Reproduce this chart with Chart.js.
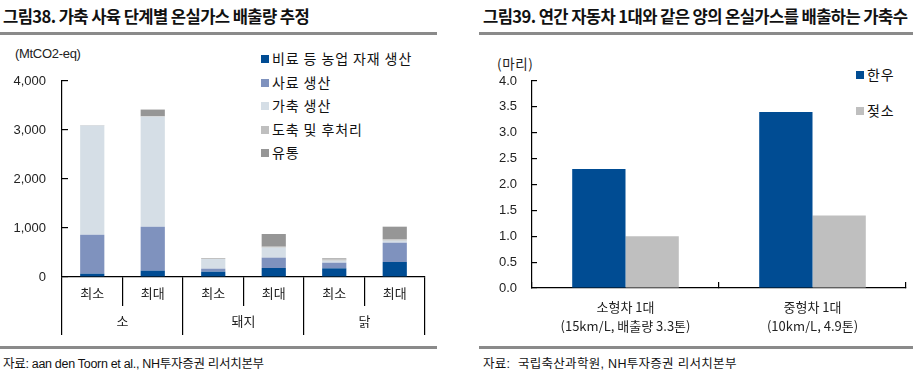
<!DOCTYPE html>
<html>
<head>
<meta charset="utf-8">
<script src="https://cdn.jsdelivr.net/npm/chart.js@4.4.1/dist/chart.umd.min.js"></script>
<style>
  html, body { margin:0; padding:0; background:#fff; }
  body { width:913px; height:375px; position:relative; overflow:hidden;
         font-family:"Liberation Sans","Noto Sans CJK KR",sans-serif; color:#111; }
  .abs { position:absolute; white-space:nowrap; }
  .title { font-family:"Noto Sans CJK KR",sans-serif; font-weight:bold; font-size:16.6px; top:4px; letter-spacing:-0.6px; color:#111; }
  .rule { position:absolute; height:3px; background:#8a8a8a; }
  .src { font-size:12.5px; top:353px; letter-spacing:-0.3px; color:#111; }
  .unit { font-size:13px; color:#222; letter-spacing:-0.3px; }
  .leg { font-family:"Noto Sans CJK KR",sans-serif; font-size:14px; line-height:16px; color:#111; letter-spacing:0.9px; }
  .leg span.sw { display:inline-block; width:8px; height:8px; margin-right:3px; vertical-align:1px; }
  canvas { position:absolute; }
</style>
</head>
<body>
<div class="abs title" style="left:3px;">그림38. 가축 사육 단계별 온실가스 배출량 추정</div>
<div class="rule" style="left:0; width:437px; top:32px;"></div>
<div class="abs unit" style="left:15px; top:46px;">(MtCO2-eq)</div>
<div id="legL"></div>
<div class="rule" style="left:0; width:437px; top:346px;"></div>
<div class="abs src" style="left:3px;">자료: aan den Toorn et al., NH투자증권 리서치본부</div>

<div class="abs title" style="left:483px;">그림39. 연간 자동차 1대와 같은 양의 온실가스를 배출하는 가축수</div>
<div class="rule" style="left:479px; width:434px; top:32px;"></div>
<div class="abs unit" style="left:497px; top:53px; font-family:'Noto Sans CJK KR',sans-serif; font-size:13.5px; letter-spacing:0.6px;">(마리)</div>
<div id="legR"></div>
<div class="rule" style="left:479px; width:434px; top:346px;"></div>
<div class="abs src" style="left:483px; letter-spacing:0.3px;">자료:&nbsp; 국립축산과학원, NH투자증권 리서치본부</div>

<canvas id="c1" width="440" height="345" style="left:0; top:0;"></canvas>
<canvas id="c2" width="453" height="345" style="left:460px; top:0;"></canvas>

<script>
// ---------- Chart 38 data ----------
const stageCats = ['최소','최대','최소','최대','최소','최대'];
const animalGroups = ['소','돼지','닭'];
const stageNames = ['비료 등 농업 자재 생산','사료 생산','가축 생산','도축 및 후처리','유통'];
const fertilizer = [67, 129, 108, 184, 177, 306];
const feed       = [796, 898, 62, 211, 115, 394];
const livestock  = [2229, 2245, 197, 204, 41, 41];
const slaughter  = [10, 10, 20, 20, 25, 28];
const distribution = [0, 135, 0, 258, 23, 258];
const leftTicks = [0, 1000, 2000, 3000, 4000];
const stageColors = ['#004C93','#7F92BE','#D5DEE6','#BFBFBF','#969696'];

// ---------- Chart 39 data ----------
const carCats = [['소형차 1대','(15km/L, 배출량 3.3톤)'], ['중형차 1대','(10km/L, 4.9톤)']];
const cattleNames = ['한우','젖소'];
const hanwoo = [2.3, 3.4];
const dairy  = [1.0, 1.4];
const rightTicks = [0, 0.5, 1, 1.5, 2, 2.5, 3, 3.5, 4];
const cattleColors = ['#004C93','#BFBFBF'];

const NUMFONT = "'Liberation Sans','Noto Sans CJK KR',sans-serif";
const KRFONT = "'Noto Sans CJK KR',sans-serif";

// HTML legends
function buildLegend(id, names, colors, left, tops) {
  const box = document.getElementById(id);
  names.forEach((n, i) => {
    const d = document.createElement('div');
    d.className = 'abs leg';
    d.style.left = left + 'px';
    d.style.top = (tops[i] - 8) + 'px';
    d.innerHTML = '<span class="sw" style="background:' + colors[i] + '"></span>' + n;
    box.appendChild(d);
  });
}
buildLegend('legL', stageNames, stageColors, 261, [58, 82, 105, 129, 152]);
buildLegend('legR', cattleNames, cattleColors, 856, [74, 110]);

const seriesL = [fertilizer, feed, livestock, slaughter, distribution];

new Chart(document.getElementById('c1'), {
  type: 'bar',
  data: {
    labels: stageCats,
    datasets: seriesL.map((d, i) => ({
      label: stageNames[i], data: d, backgroundColor: stageColors[i],
      borderWidth: 0, barPercentage: 0.4, categoryPercentage: 1.0, xAxisID: 'x', yAxisID: 'y'
    }))
  },
  options: {
    responsive: false, animation: false,
    layout: { padding: { left: 0, top: 81, right: 15, bottom: 10 } },
    plugins: { legend: { display: false }, tooltip: { enabled: false } },
    scales: {
      x: {
        type: 'category', position: 'bottom', stacked: true,
        grid: { display: true, offset: true, drawOnChartArea: false, tickLength: 29, color: '#000', lineWidth: 1.2 },
        border: { display: true, color: '#000', width: 1.2 },
        ticks: { padding: -21, color: '#222', font: { family: KRFONT, size: 13 } },
        afterFit: s => { s.height = 29; }
      },
      x2: {
        type: 'category', position: 'bottom', labels: animalGroups, offset: true,
        grid: { display: true, offset: true, drawOnChartArea: false, tickLength: 29, color: '#000', lineWidth: 1.2 },
        border: { display: false },
        ticks: { padding: -22, color: '#222', font: { family: KRFONT, size: 13 } },
        afterFit: s => { s.height = 29; }
      },
      y: {
        stacked: true, min: 0, max: 4000,
        afterBuildTicks: s => { s.ticks = leftTicks.map(v => ({ value: v })); },
        grid: { display: true, drawOnChartArea: false, tickLength: -6, color: '#000', lineWidth: 1.2 },
        border: { display: true, color: '#000', width: 1.2 },
        ticks: { padding: 22, color: '#222', font: { family: NUMFONT, size: 13 },
                 callback: v => v.toLocaleString('en-US') },
        afterFit: s => { s.width = 62; }
      }
    }
  }
});

new Chart(document.getElementById('c2'), {
  type: 'bar',
  data: {
    labels: carCats,
    datasets: [hanwoo, dairy].map((d, i) => ({
      label: cattleNames[i], data: d, backgroundColor: cattleColors[i],
      borderWidth: 0, barPercentage: 1.0, categoryPercentage: 0.57
    }))
  },
  options: {
    responsive: false, animation: false,
    layout: { padding: { left: 0, top: 81, right: 7, bottom: 12 } },
    plugins: { legend: { display: false }, tooltip: { enabled: false } },
    scales: {
      x: {
        grid: { display: true, offset: true, drawOnChartArea: false, tickLength: -6, color: '#000', lineWidth: 1.2 },
        border: { display: true, color: '#000', width: 1.2 },
        ticks: { padding: 15, color: '#222', font: { family: KRFONT, size: 13, lineHeight: 1.5 } },
        afterFit: s => { s.height = 45; }
      },
      y: {
        min: 0, max: 4,
        afterBuildTicks: s => { s.ticks = rightTicks.map(v => ({ value: v })); },
        grid: { display: true, drawOnChartArea: false, tickLength: -5, color: '#000', lineWidth: 1.2 },
        border: { display: true, color: '#000', width: 1.2 },
        ticks: { padding: 20, color: '#222', font: { family: NUMFONT, size: 13 },
                 callback: v => Number(v).toFixed(1) },
        afterFit: s => { s.width = 72; }
      }
    }
  }
});
</script>
</body>
</html>
